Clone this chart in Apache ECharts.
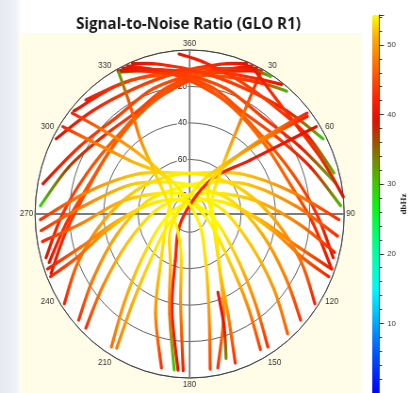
<!DOCTYPE html>
<html>
<head>
<meta charset="utf-8">
<script src="https://cdn.jsdelivr.net/npm/echarts@6/dist/echarts.min.js"></script>
<style>
  html, body { margin: 0; padding: 0; width: 409px; height: 393px; overflow: hidden;
    background: linear-gradient(90deg, #e6eaf0 0px, #edf0f5 15px, #ffffff 22px); }
  /* the sky plot is drawn slightly narrower than tall */
  #chart { width: 434px; height: 393px; transform: scaleX(0.9424); transform-origin: 0 0; }
</style>
</head>
<body>
<div id="chart"></div>
<script>
// SNR colour scale (dB-Hz), evenly spaced stops from 0 to snrMax
const snrMax = 54.3;
const snrColors = ['#0000ff', '#0028ff', '#0058ff', '#0090ff', '#00c8ff', '#00f8ff', '#00ffc0',
  '#00ff90', '#00ff50', '#10f010', '#40c800', '#709000', '#a05000', '#e01000', '#ff2000',
  '#ff5000', '#ff8000', '#ffb000', '#ffff00'];
const colorbarTicks = [10, 20, 30, 40, 50];

// Satellite tracks: each point is [azimuth deg, elevation deg, SNR dB-Hz]
// low passes across the northern sky, rising in the west
const lowPassW1 = [[254,3,39],[270,16,43],[290,26,45],[315,30,46],[340,25,45],[5,14,44],[22,5,41],[28,1,39]];
const lowPassW2 = [[252,4,40],[266,18,43],[285,29,46],[310,32,47],[335,27,46],[0,15,45],[18,6,42],[24,1,40]];
const lowPassW3 = [[248,3,39],[262,17,43],[280,28,45],[305,32,46],[330,28,46],[355,17,45],[15,8,43],[25,2,39]];
const lowPassW4 = [[273,3,29],[290,15,37],[310,24,42],[331,26,44],[350,19,45],[10,11,44],[27,2,40]];
const lowPassW5 = [[281,3,40],[300,16,43],[322,22,44],[343,18,45],[3,13,44],[20,5,41],[26,1,39]];
const lowPassW6 = [[298,2,39],[315,10,42],[335,14,44],[355,12,44],[12,6,42],[22,1,39]];
const lowPassW7 = [[310,2,40],[330,8,43],[350,11,45],[10,9,44],[25,3,41],[32,1,30]];
const lowPassW8 = [[316,3,41],[335,9,44],[355,13,46],[15,12,45],[30,7,43],[40,2,31]];
const lowPassW9 = [[332,2,30],[345,8,39],[0,12,44],[15,10,44],[30,5,42],[37,1,40]];
// low passes across the northern sky, rising in the east
const lowPassE1 = [[106,3,39],[90,16,43],[70,26,45],[45,30,46],[20,25,45],[355,14,44],[338,5,41],[332,1,39]];
const lowPassE2 = [[110,2,40],[94,18,43],[75,29,46],[50,32,47],[25,27,46],[0,15,45],[342,6,42],[336,1,40]];
const lowPassE3 = [[87,2,31],[70,15,41],[50,24,44],[29,26,45],[10,19,45],[350,11,44],[333,2,39]];
const lowPassE4 = [[79,3,30],[60,16,41],[38,22,44],[17,18,45],[357,13,44],[340,5,41],[334,1,39]];
const lowPassE5 = [[62,2,30],[45,10,41],[25,14,44],[5,12,44],[348,6,42],[338,1,39]];
const lowPassE6 = [[84,0,39],[70,7,42],[54,11,43],[38,9,43],[25,2,40]];
const lowPassE7 = [[75,3,31],[58,9,41],[40,13,44],[20,11,44],[5,6,42],[356,2,40]];
// high passes from the south-west to the east
const archSW1 = [[236,2,42],[248,20,47],[266,40,50.5],[292,56,52.5],[330,66,53.5],[20,66,53.5],[55,52,52],[78,30,49],[92,3,43]];
const archSW2 = [[228,3,43],[238,24,48],[255,46,51],[285,64,53],[330,74,54],[30,70,54],[65,52,52],[86,28,48.5],[98,3,43]];
const archSW3 = [[224,3,43],[232,26,48.5],[246,50,52],[275,70,53.5],[335,80,54],[50,72,54],[80,50,51.5],[95,26,48],[104,3,42]];
const archSW4 = [[212,4,47],[218,28,50],[228,52,52.5],[255,74,54],[340,84,54],[70,70,54],[95,48,51],[106,24,47],[110,2,41]];
const archSW5 = [[210,5,48],[214,30,51],[222,56,53],[250,78,54],[20,82,54],[80,64,53.5],[100,42,51],[110,20,46],[113,2,42]];
// high passes from the south-east to the west
const archSE1 = [[124,2,42],[112,20,47],[94,40,50.5],[68,56,52.5],[30,66,53.5],[340,66,53.5],[305,52,52],[282,30,49],[268,3,43]];
const archSE2 = [[132,3,43],[122,24,48],[105,46,51],[75,64,53],[30,74,54],[330,70,54],[295,52,52],[274,28,48.5],[264,3,43]];
const archSE3 = [[139,3,46],[130,26,49.5],[116,50,52],[85,70,53.5],[25,80,54],[310,72,54],[280,50,51.5],[265,26,48],[260,3,42]];
const archSE4 = [[148,4,43],[142,28,48.5],[132,52,52],[105,74,54],[20,84,54],[290,70,54],[265,48,51],[254,24,47],[250,2,41]];
const archSE5 = [[151,5,44],[146,30,49],[138,56,52.5],[110,78,54],[340,82,54],[280,64,53.5],[260,42,51],[250,20,46],[247,2,42]];
// near-zenith passes rising in the south
const southPass1 = [[184.5,4,40],[191,36,41],[198,63,42],[233,84,42],[33,68,42],[50,44,41],[56,12,40],[57,2,39]];
const southPass2 = [[172,4,44],[168,36,50],[160,63,53],[125,84,54],[329,68,53.5],[310,44,51],[304,13,46],[303,2,42]];
const southPass3 = [[191,4,43],[200,32,49],[212,58,52.5],[255,76,54],[325,70,53.5],[318,45,51],[312,20,47],[309,2,42]];
const southPass4 = [[169,4,43],[160,32,49],[148,58,52.5],[105,76,54],[35,70,53.5],[42,45,51],[48,20,47],[51,2,42]];
const southPass5 = [[182.5,4,41],[186,40,49],[195,70,53.5],[270,80,54],[318,60,52.5],[325,40,49],[330,20,45],[332,2,32]];
const southPass6 = [[159,44,41],[162,25,40],[165,8,33]];
const southPass7 = [[162,4,43],[158,30,48.5],[150,55,52.5],[120,72,54],[60,75,54],[35,55,52],[30,30,48],[28,3,41]];
const southPass8 = [[186,4,30],[192,34,47],[202,60,52],[240,78,53.5],[20,72,53.5],[40,50,51],[48,25,47],[52,3,41]];

const tracks = [lowPassW1, lowPassW2, lowPassW3, lowPassW4, lowPassW5, lowPassW6, lowPassW7, lowPassW8, lowPassW9,
  lowPassE1, lowPassE2, lowPassE3, lowPassE4, lowPassE5, lowPassE6, lowPassE7,
  archSW1, archSW2, archSW3, archSW4, archSW5, archSE1, archSE2, archSE3, archSE4, archSE5,
  southPass1, southPass2, southPass3, southPass4, southPass5, southPass6, southPass7, southPass8];

// one data item per track segment: [elevation, azimuth, snr, track, point]
const segments = [];
tracks.forEach((t, ti) => {
  for (let i = 0; i < t.length - 1; i++) segments.push([t[i][1], t[i][0], t[i][2], ti, i]);
});

const snrColor = v => echarts.color.lerp(Math.max(0, Math.min(1, v / snrMax)), snrColors);

// draws a smooth (Catmull-Rom) piece of a track, shaded by SNR along its length
function renderSegment(params, api) {
  const t = tracks[api.value(3)];
  const i = api.value(4);
  const at = k => {
    const q = t[Math.max(0, Math.min(t.length - 1, k))];
    return api.coord([q[1], q[0]]);
  };
  const p0 = at(i - 1), p1 = at(i), p2 = at(i + 1), p3 = at(i + 2);
  const c1 = [p1[0] + (p2[0] - p0[0]) / 6, p1[1] + (p2[1] - p0[1]) / 6];
  const c2 = [p2[0] - (p3[0] - p1[0]) / 6, p2[1] - (p3[1] - p1[1]) / 6];
  const grad = new echarts.graphic.LinearGradient(p1[0], p1[1], p2[0] + 0.01, p2[1] + 0.01, [
    { offset: 0, color: snrColor(t[i][2]) },
    { offset: 1, color: snrColor(t[i + 1][2]) }
  ], true);
  return {
    type: 'bezierCurve',
    shape: { x1: p1[0], y1: p1[1], x2: p2[0], y2: p2[1], cpx1: c1[0], cpy1: c1[1], cpx2: c2[0], cpy2: c2[1] },
    style: { fill: null, stroke: grad, lineWidth: 3.2, lineCap: 'round' }
  };
}

const chart = echarts.init(document.getElementById('chart'), null, { renderer: 'canvas' });
const plotCenter = [201.2, 214];
const plotRadius = 164;

chart.setOption({
  animation: false,
  backgroundColor: 'transparent',
  title: {
    text: 'Signal-to-Noise Ratio (GLO R1)',
    left: 200, top: 16, textAlign: 'center', padding: 0,
    textStyle: { fontSize: 16, fontWeight: 'bold', color: '#1a1a1a', fontFamily: 'Open Sans' }
  },
  graphic: [{
    type: 'rect', z: -10, silent: true,
    shape: { x: 21.2, y: 33, width: 363, height: 362 },
    style: { fill: '#fffde8' }
  }],
  polar: [
    { center: plotCenter, radius: plotRadius },
    { center: plotCenter, radius: plotRadius }
  ],
  angleAxis: [{
    polarIndex: 0, type: 'value', min: 0, max: 360, interval: 30, startAngle: 90, clockwise: true, z: 0,
    axisLine: { show: true, lineStyle: { color: '#555', width: 1 } },
    axisTick: { show: false },
    axisLabel: { margin: 2, fontSize: 8.5, color: '#333', fontFamily: 'Liberation Sans',
      formatter: v => (v === 0 ? '360' : String(v)) },
    splitLine: { show: true, lineStyle: { color: '#3a3a3a', width: 0.8 } },
    splitArea: { show: true, areaStyle: { color: ['#ffffff'] } }
  }, {
    polarIndex: 1, type: 'value', min: 0, max: 360, interval: 90, startAngle: 90, clockwise: true, z: 1,
    axisLine: { show: false }, axisTick: { show: false }, axisLabel: { show: false },
    splitLine: { show: true, lineStyle: { color: '#7d7d7d', width: 1.8 } }
  }],
  radiusAxis: [{
    polarIndex: 0, type: 'value', min: 0, max: 90, interval: 20, inverse: true, z: 1,
    axisLine: { show: false }, axisTick: { show: false },
    axisLabel: { fontSize: 8.5, color: '#222', fontFamily: 'Liberation Sans', margin: 2,
      backgroundColor: '#ffffff', padding: [0, 1],
      formatter: v => (v > 0 && v < 90 ? String(v) : '') },
    splitLine: { show: true, lineStyle: { color: '#3a3a3a', width: 0.8 } }
  }, {
    polarIndex: 1, type: 'value', min: 0, max: 90, inverse: true,
    axisLine: { show: false }, axisTick: { show: false }, axisLabel: { show: false }, splitLine: { show: false }
  }],
  visualMap: {
    type: 'continuous', min: 0, max: snrMax, dimension: 2, seriesIndex: 0,
    calculable: false, hoverLink: false, orient: 'vertical',
    left: 394.9, top: 15, itemWidth: 7.4, itemHeight: 380, padding: 0,
    inRange: { color: snrColors }
  },
  grid: { left: 402.4, top: 15, width: 1, height: 380 },
  xAxis: { type: 'value', show: false },
  yAxis: {
    type: 'value', position: 'right', min: 0, max: snrMax, interval: 10,
    axisLine: { show: true, lineStyle: { color: '#333', width: 1 } },
    axisTick: { show: true, length: 5, lineStyle: { color: '#333' } },
    minorTick: { show: true, splitNumber: 5, length: 3, lineStyle: { color: '#333' } },
    axisLabel: { margin: 8, fontSize: 8, color: '#333', fontFamily: 'Liberation Sans',
      showMinLabel: false, showMaxLabel: false,
      formatter: v => (colorbarTicks.indexOf(v) >= 0 ? String(v) : '') },
    splitLine: { show: false },
    name: 'dbHz', nameLocation: 'middle', nameGap: 21, nameRotate: 90,
    nameTextStyle: { fontSize: 9, fontWeight: 'bold', color: '#222', fontFamily: 'Liberation Serif' }
  },
  series: [{
    type: 'custom', coordinateSystem: 'polar', polarIndex: 0,
    encode: { radius: 0, angle: 1 },
    data: segments, renderItem: renderSegment, silent: true, clip: false, z: 3
  }]
});
</script>
</body>
</html>
